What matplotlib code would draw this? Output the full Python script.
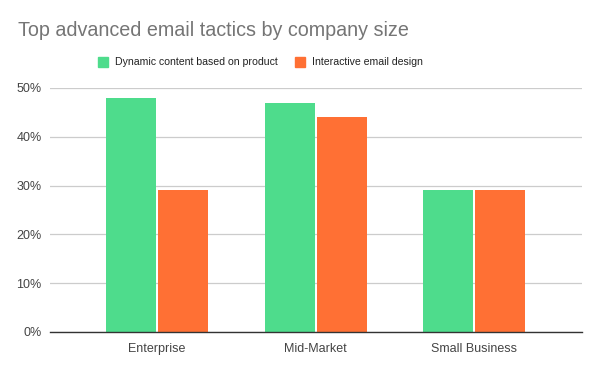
import numpy as np
from matplotlib import pyplot as plt
from matplotlib.patches import Rectangle

categories = ['Enterprise', 'Mid-Market', 'Small Business']
dynamic_content = [48, 47, 29]
interactive_design = [29, 44, 29]
series_names = ['Dynamic content based on product', 'Interactive email design']
colors = ['#4edc8c', '#ff7034']

plt.rcParams['font.family'] = ['Liberation Sans', 'DejaVu Sans']

fig = plt.figure(figsize=(6, 3.71), dpi=100)
ax = fig.add_axes([50 / 600, 1 - 332 / 371, 532 / 600, 244 / 371])

x = np.arange(len(categories))
w = 0.315
gap = 0.0065
ax.bar(x - w / 2 - gap, dynamic_content, w, color=colors[0], zorder=3)
ax.bar(x + w / 2 + gap, interactive_design, w, color=colors[1], zorder=3)

ax.set_xlim(-0.675, 2.68)
ax.set_ylim(0, 50)
ax.set_yticks(np.arange(0, 51, 10))
ax.set_yticklabels(['%d%%' % v for v in range(0, 51, 10)])
ax.set_xticks(x)
ax.set_xticklabels(categories)
ax.tick_params(length=0, labelsize=9, colors='#444444', pad=6)
ax.tick_params(axis='x', pad=8)
ax.grid(axis='y', color='#cccccc', lw=0.9, zorder=0)
for s in ['top', 'right', 'left']:
    ax.spines[s].set_visible(False)
ax.spines['bottom'].set_color('#333333')
ax.spines['bottom'].set_linewidth(1.0)
ax.spines['bottom'].set_zorder(4)

fig.text(18 / 600, 1 - 31 / 371, 'Top advanced email tactics by company size',
         fontsize=14.2, color='#757575', va='center', ha='left')

# legend
for px, name, c in [(98, series_names[0], colors[0]), (295, series_names[1], colors[1])]:
    fig.patches.append(Rectangle((px / 600, 1 - 67 / 371), 10 / 600, 10 / 371,
                                 transform=fig.transFigure, color=c))
    fig.text((px + 17) / 600, 1 - 62 / 371, name, fontsize=7.6, color='#222222',
             va='center', ha='left')

plt.savefig('out.png', dpi=100)
